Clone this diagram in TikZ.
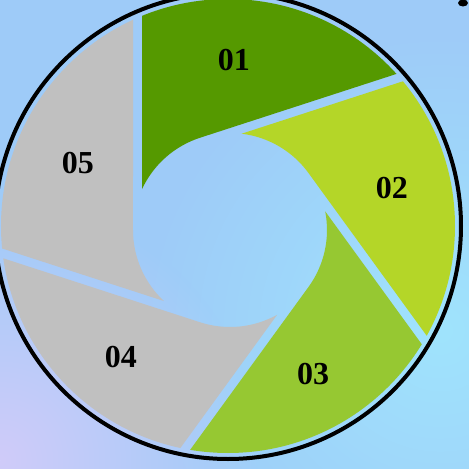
\documentclass[tikz,border=0pt]{standalone}
\usepackage{fontspec}
\setmainfont{Liberation Serif}
\usetikzlibrary{fadings}
\definecolor{bgblue}{RGB}{158,203,248}
\definecolor{cyanglow}{RGB}{160,228,253}
\definecolor{lavglow}{RGB}{208,204,250}
\definecolor{green01}{RGB}{85,153,0}
\definecolor{green02}{RGB}{180,214,40}
\definecolor{green03}{RGB}{150,200,50}
\definecolor{grey04}{RGB}{192,192,192}
\tikzfading[name=glow, inner color=transparent!0, outer color=transparent!100]

\begin{document}
\begin{tikzpicture}[x=1pt, y=1pt, lbl/.style={font=\fontsize{32}{38}\selectfont\bfseries}]
        \useasboundingbox (-230,-239) rectangle (239,230);
        % Background glow.
            \fill[bgblue] (-230,-239) rectangle (239,230);
            \fill[cyanglow, path fading=glow] (210,-100) circle (300);
            \fill[lavglow, path fading=glow] (-230,-230) circle (260);
        % Blades, cut at the rim.
        \begin{scope}
            \clip (-2,4) circle (227);
            \fill[green01] (155.1:97) -- (-88,300) -- (300,300) -- (274,191) -- (108:97) arc[start angle=108, end angle=155.1, radius=97] -- cycle;
            \fill[green02, rotate=-72] (155.1:97) -- (-88,300) -- (300,300) -- (274,191) -- (108:97) arc[start angle=108, end angle=155.1, radius=97] -- cycle;
            \fill[green03, rotate=-144] (155.1:97) -- (-88,300) -- (300,300) -- (274,191) -- (108:97) arc[start angle=108, end angle=155.1, radius=97] -- cycle;
            \fill[grey04, rotate=-216] (155.1:97) -- (-88,300) -- (300,300) -- (274,191) -- (108:97) arc[start angle=108, end angle=155.1, radius=97] -- cycle;
            \fill[grey04, rotate=-288] (155.1:97) -- (-88,300) -- (300,300) -- (274,191) -- (108:97) arc[start angle=108, end angle=155.1, radius=97] -- cycle;
        \end{scope}
        % The rim.
            \draw[line width=4pt] (-2,4) circle (233);
            \fill (233,227) ellipse (5 and 3.5);
        % Below nodes are the labels.
            \node[lbl] (n01) at (4,170) {01};
            \node[lbl] (n02) at (162,42) {02};
            \node[lbl] (n03) at (83,-144) {03};
            \node[lbl] (n04) at (-109,-127) {04};
            \node[lbl] (n05) at (-152,67) {05};
    \end{tikzpicture}
\end{document}
